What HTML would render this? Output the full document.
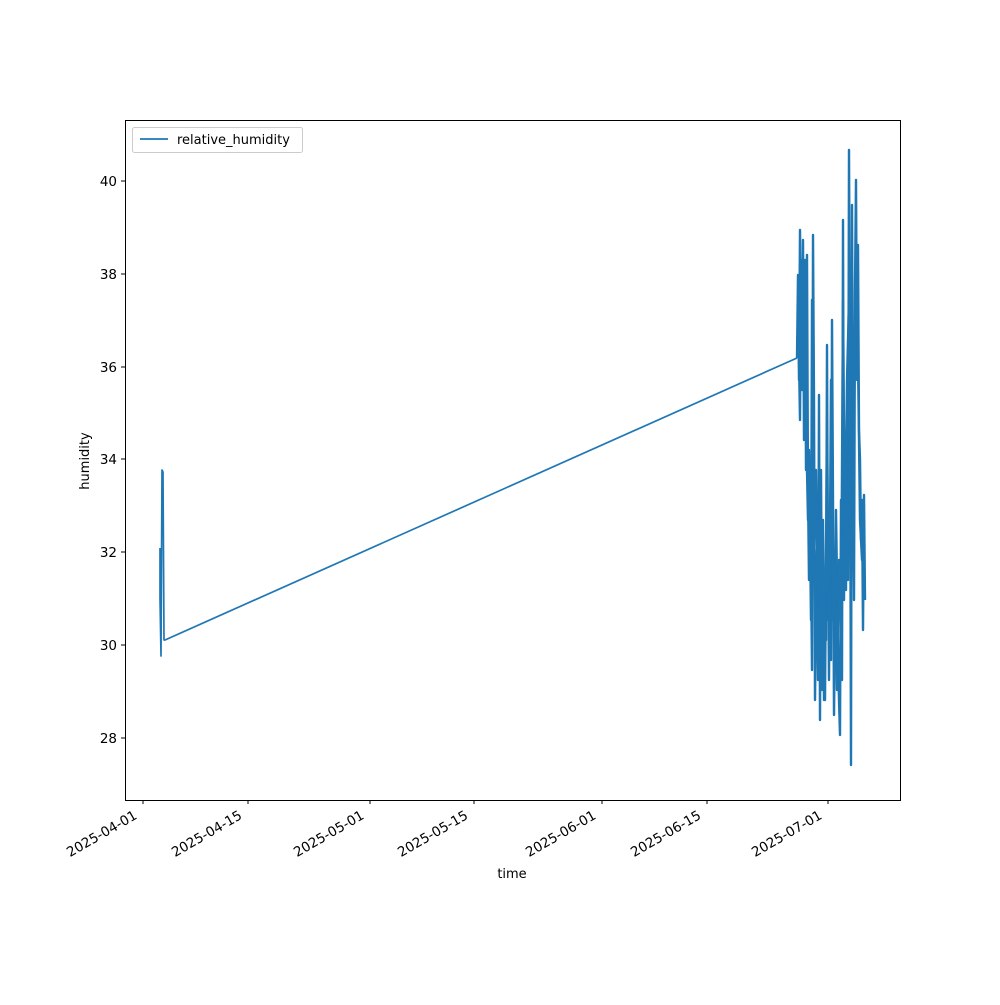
<!DOCTYPE html>
<html><head><style>body{margin:0;background:#fff}svg text{font-family:"DejaVu Sans","Liberation Sans",sans-serif;font-size:13.5px;fill:#000}</style></head>
<body>
<svg width="1000" height="1000" xmlns="http://www.w3.org/2000/svg">
<rect width="1000" height="1000" fill="#fff"/>
<g fill="none" stroke="#1f77b4" stroke-width="1.7" stroke-linejoin="round">
<polyline points="160,548 160,598 161,656 162,470 163,472 164,640 165,640 797,358"/>
</g>
<g fill="none" stroke="#1f77b4" stroke-width="2.4" stroke-linejoin="round">
<polyline points="797,358 798,275 799,380 800,230 801,330 802,390 803,240 804,440 805,260 806,470 807,255 808,490 809,580 810,530 811,560 812,670 813,235 814,400 815,700 816,610 817,550 818,680 819,395 820,720 821,470 822,640 823,560 824,700 825,600 826,640 827,345 828,620 829,560 830,640 831,660 832,320 833,500 834,715 835,620 836,510 837,580 838,650 839,700 840,735 841,500 842,680 843,220 844,600 845,480 846,590 847,410 848,580 849,150 850,380 851,765 852,205 853,470 854,600 855,290 856,180 857,380 858,245 859,430 860,460 861,540 862,500 863,630 864,495 865,600"/>
<polyline points="798,300 800,420 801,260 803,380 805,300 806,420 808,520 809,450 811,620 812,300 814,560 816,470 818,620 820,480 822,690 823,520 825,700 827,420 829,680 831,380 833,620 835,560 837,690 839,560 841,640 843,300 845,560 847,380 849,300 850,520 852,300 854,420 856,260 858,360 860,520 862,560 864,520"/>
</g>
<rect x="125.5" y="120.5" width="775" height="680" fill="none" stroke="#000" stroke-width="1"/>
<g stroke="#000" stroke-width="1">
<line x1="125" x2="121" y1="181" y2="181"/><line x1="125" x2="121" y1="274" y2="274"/><line x1="125" x2="121" y1="367" y2="367"/><line x1="125" x2="121" y1="459" y2="459"/><line x1="125" x2="121" y1="552" y2="552"/><line x1="125" x2="121" y1="645" y2="645"/><line x1="125" x2="121" y1="738" y2="738"/>
<line x1="143" x2="143" y1="800" y2="804"/><line x1="248" x2="248" y1="800" y2="804"/><line x1="370" x2="370" y1="800" y2="804"/><line x1="474" x2="474" y1="800" y2="804"/><line x1="602" x2="602" y1="800" y2="804"/><line x1="707" x2="707" y1="800" y2="804"/><line x1="828" x2="828" y1="800" y2="804"/>
</g>
<g text-anchor="end" style="font-size:13px">
<text x="117" y="186">40</text><text x="117" y="279">38</text><text x="117" y="372">36</text><text x="117" y="464">34</text><text x="117" y="557">32</text><text x="117" y="650">30</text><text x="117" y="743">28</text>
</g>
<g text-anchor="end" style="font-size:13.5px">
<text transform="translate(138,818) rotate(-30)">2025-04-01</text>
<text transform="translate(243,818) rotate(-30)">2025-04-15</text>
<text transform="translate(365,818) rotate(-30)">2025-05-01</text>
<text transform="translate(469,818) rotate(-30)">2025-05-15</text>
<text transform="translate(597,818) rotate(-30)">2025-06-01</text>
<text transform="translate(702,818) rotate(-30)">2025-06-15</text>
<text transform="translate(823,818) rotate(-30)">2025-07-01</text>
</g>
<text x="512" y="878" text-anchor="middle" style="font-size:13px">time</text>
<text transform="translate(89,461) rotate(-90)" text-anchor="middle" style="font-size:13px">humidity</text>
<rect x="132.5" y="127.5" width="170" height="25" rx="2" fill="#fff" stroke="#ccc"/>
<line x1="140" x2="168" y1="139" y2="139" stroke="#1f77b4" stroke-width="1.7"/>
<text x="177" y="144" style="font-size:13px">relative_humidity</text>
</svg>
</body></html>
